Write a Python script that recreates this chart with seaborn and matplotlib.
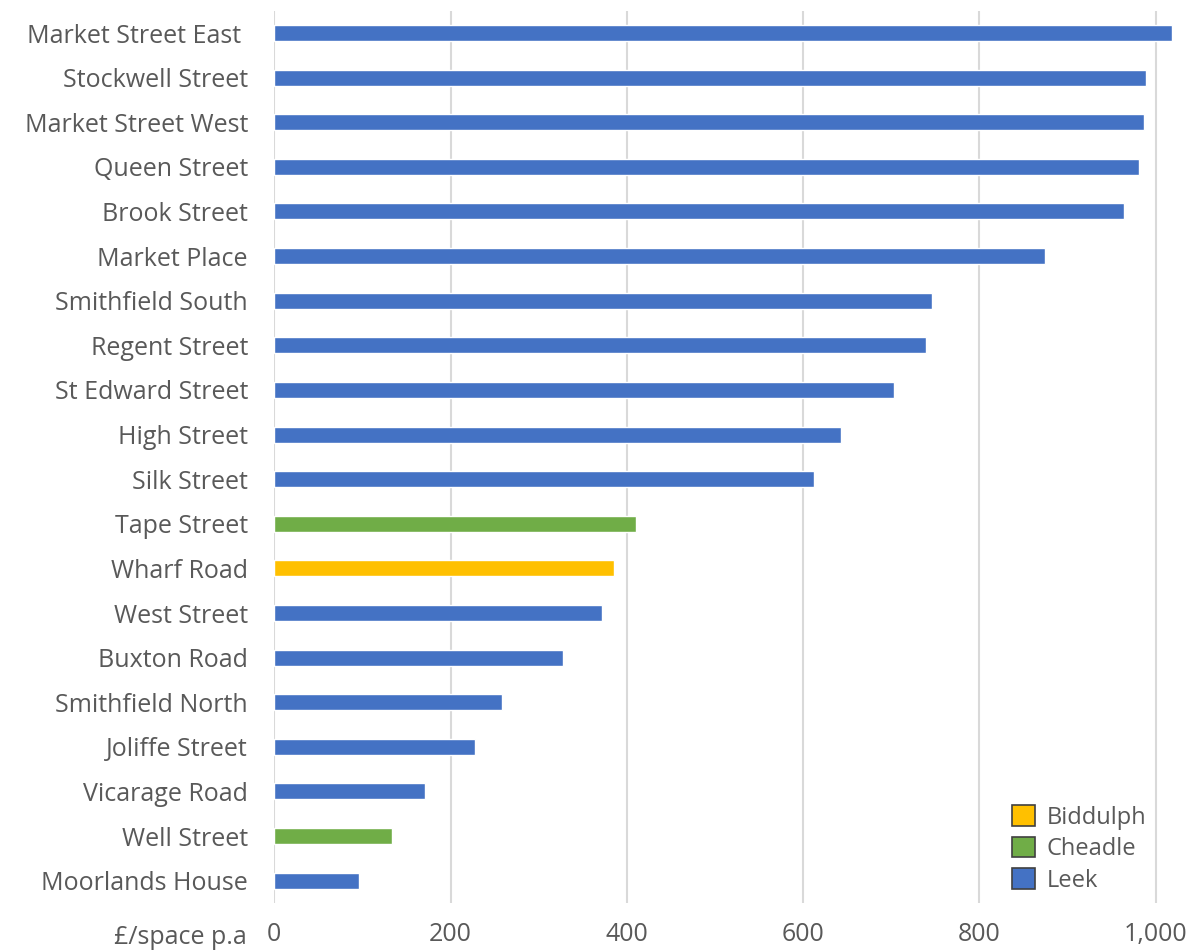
import numpy as np
import pandas as pd
import matplotlib
matplotlib.use('Agg')
import matplotlib.pyplot as plt
import seaborn as sns

# Values (£ per space per annum)
streets = ['Market Street East ', 'Stockwell Street', 'Market Street West', 'Queen Street',
           'Brook Street', 'Market Place', 'Smithfield South', 'Regent Street',
           'St Edward Street', 'High Street', 'Silk Street', 'Tape Street', 'Wharf Road',
           'West Street', 'Buxton Road', 'Smithfield North', 'Joliffe Street',
           'Vicarage Road', 'Well Street', 'Moorlands House']
values = [1019, 989, 987, 981, 964, 874, 746, 739, 703, 643, 612,
          410, 385, 372, 328, 258, 228, 171, 133, 96]
towns = ['Leek', 'Leek', 'Leek', 'Leek', 'Leek', 'Leek', 'Leek', 'Leek', 'Leek', 'Leek', 'Leek',
         'Cheadle', 'Biddulph', 'Leek', 'Leek', 'Leek', 'Leek', 'Leek', 'Cheadle', 'Leek']
town_order = ['Biddulph', 'Cheadle', 'Leek']
town_colors = {'Biddulph': '#FFC000', 'Cheadle': '#70AD47', 'Leek': '#4472C4'}
x_ticks = [0, 200, 400, 600, 800, 1000]

df = pd.DataFrame({'street': streets, 'value': values, 'town': towns})

sns.set_style('white')
plt.rcParams['font.family'] = ['Open Sans', 'DejaVu Sans']
text_grey = '#595959'
fs = 18

fig = plt.figure(figsize=(11.93, 9.52), dpi=100)
ax = fig.add_axes([274.3 / 1193, 1 - 903 / 952, (1182 - 274.3) / 1193, (903 - 10.7) / 952])

sns.barplot(data=df, y='street', x='value', hue='town', order=streets,
            hue_order=town_order, palette=town_colors, dodge=False, width=0.36,
            saturation=1, orient='h', ax=ax, legend=False)

ax.set_xlim(0, 1030)
ax.set_xticks(x_ticks)
ax.set_xticklabels([f'{t:,}' for t in x_ticks])
ax.grid(axis='x', color='#d9d9d9', linewidth=1.5)
ax.set_axisbelow(True)
for s in ax.spines.values():
    s.set_visible(False)
ax.set_xlabel('')
ax.set_ylabel('')
ax.tick_params(axis='y', length=0, pad=19, labelsize=fs, labelcolor=text_grey)
ax.tick_params(axis='x', length=0, pad=14, labelsize=fs, labelcolor=text_grey)

fig.text(247 / 1193, 1 - 937 / 952, '£/space p.a', ha='right', va='center',
         fontsize=fs, color=text_grey)

handles = [plt.Rectangle((0, 0), 1, 1, facecolor=town_colors[t], edgecolor='#404040', linewidth=1.2)
           for t in town_order]
leg = ax.legend(handles, town_order, loc='upper left', frameon=False,
                bbox_to_anchor=(1003 / 1193, 1 - 796 / 952), bbox_transform=fig.transFigure,
                fontsize=17, handlelength=0.95, handleheight=0.95, handletextpad=0.5,
                labelspacing=0.3, borderaxespad=0)
for t in leg.get_texts():
    t.set_color(text_grey)

fig.savefig('out.png', dpi=100)
